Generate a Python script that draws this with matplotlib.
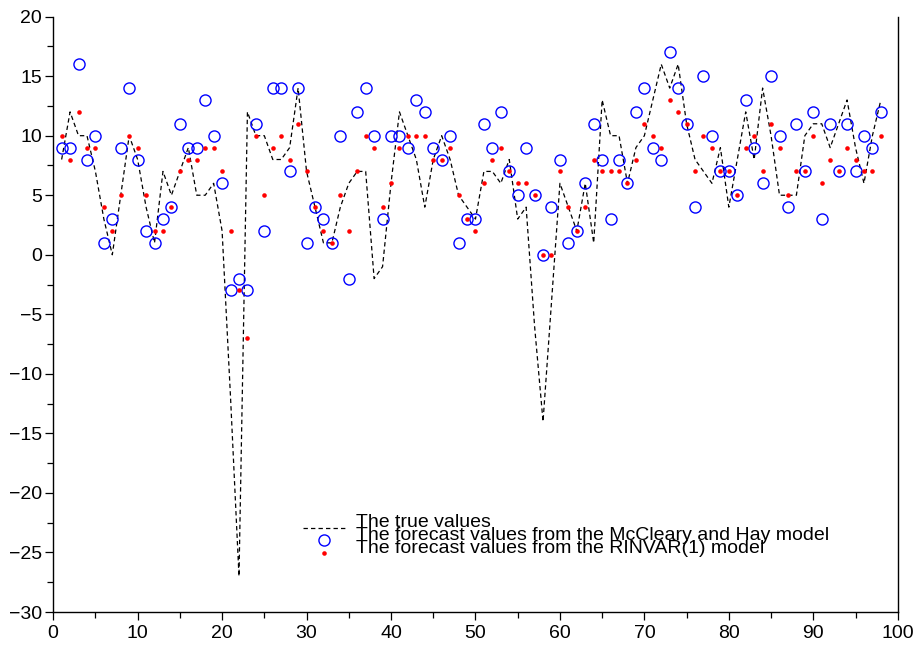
import numpy as np
import matplotlib
matplotlib.use("Agg")
import matplotlib.pyplot as plt

plt.rcParams['font.family'] = ['Liberation Sans', 'DejaVu Sans']

# time index
t = np.arange(1, 99)

# true series (dashed line)
true_vals = [8, 12, 10, 10, 7, 3, 0, 5, 10, 8,
             4, 1, 7, 5, 7, 9, 5, 5, 6, 2,
             -12, -27, 12, 10, 10, 8, 8, 9, 14, 7,
             4, 1, 1, 4, 6, 7, 7, -2, -1, 6,
             12, 10, 8, 4, 8, 10, 8, 5, 4, 3,
             7, 7, 6, 8, 3, 4, -6, -14, -4, 6,
             4, 2, 6, 1, 13, 10, 10, 6, 9, 10,
             13, 16, 14, 16, 11, 8, 7, 6, 9, 4,
             8, 12, 8, 14, 10, 5, 5, 5, 10, 11,
             11, 9, 11, 13, 9, 6, 10, 13]

# McCleary and Hay forecasts (blue circles)
mh_vals = [9, 9, 16, 8, 10, 1, 3, 9, 14, 8,
           2, 1, 3, 4, 11, 9, 9, 13, 10, 6,
           -3, -2, -3, 11, 2, 14, 14, 7, 14, 1,
           4, 3, 1, 10, -2, 12, 14, 10, 3, 10,
           10, 9, 13, 12, 9, 8, 10, 1, 3, 3,
           11, 9, 12, 7, 5, 9, 5, 0, 4, 8,
           1, 2, 6, 11, 8, 3, 8, 6, 12, 14,
           9, 8, 17, 14, 11, 4, 15, 10, 7, 7,
           5, 13, 9, 6, 15, 10, 4, 11, 7, 12,
           3, 11, 7, 11, 7, 10, 9, 12]

# RINVAR(1) forecasts (red dots)
rinvar_vals = [10, 8, 12, 9, 9, 4, 2, 5, 10, 9,
               5, 2, 2, 4, 7, 8, 8, 9, 9, 7,
               2, -3, -7, 10, 5, 9, 10, 8, 11, 7,
               4, 2, 1, 5, 2, 7, 10, 9, 4, 6,
               9, 10, 10, 10, 8, 8, 9, 5, 3, 2,
               6, 8, 9, 7, 6, 6, 5, 0, 0, 7,
               4, 2, 4, 8, 7, 7, 7, 6, 8, 11,
               10, 9, 13, 12, 11, 7, 10, 9, 7, 7,
               5, 9, 10, 7, 11, 9, 5, 7, 7, 10,
               6, 8, 7, 9, 8, 7, 7, 10]

labels = ['The true values',
          'The forecast values from the McCleary and Hay model',
          'The forecast values from the RINVAR(1) model']

fig = plt.figure(figsize=(9.17, 6.49), dpi=100)
ax = fig.add_axes([0.058, 0.057, 0.921, 0.9174])

ax.plot(t, true_vals, color='black', lw=0.9, linestyle=(0, (3.5, 2.5)))
ax.plot(t, mh_vals, 'o', mfc='none', mec='#0000ff', ms=8, mew=1.0)
ax.plot(t, rinvar_vals, 'o', color='#ff0000', ms=3.3, mew=0)

ax.set_xlim(0, 100)
ax.set_ylim(-30, 20)
ax.set_xticks(np.arange(0, 101, 10))
ax.set_xticks(np.arange(5, 100, 10), minor=True)
ax.set_yticks(np.arange(-30, 21, 5))
ax.set_yticks(np.arange(-27.5, 20, 5), minor=True)
ax.tick_params(which='major', length=6, width=0.9, labelsize=14, direction='out')
ax.tick_params(which='minor', length=4, width=0.9, direction='out')
ax.tick_params(axis='x', pad=3)
ax.tick_params(axis='y', pad=2)
ax.spines['top'].set_visible(False)
for s in ['left', 'bottom', 'right']:
    ax.spines[s].set_linewidth(1.0)

# legend, drawn by hand to get the tight stacked look
tr = ax.transAxes
ax.plot([0.296, 0.346], [0.141, 0.141], color='black', lw=0.9,
        linestyle=(0, (3.5, 2.5)), transform=tr, clip_on=False)
ax.plot([0.321], [0.121], 'o', mfc='none', mec='#0000ff', ms=8, mew=1.0,
        transform=tr, clip_on=False)
ax.plot([0.321], [0.099], 'o', color='#ff0000', ms=3.3, mew=0,
        transform=tr, clip_on=False)
for lab, yy in zip(labels, [0.151, 0.128, 0.106]):
    ax.text(0.3586, yy, lab, transform=tr, fontsize=14, va='center', ha='left')

fig.savefig('out.png', dpi=100)
